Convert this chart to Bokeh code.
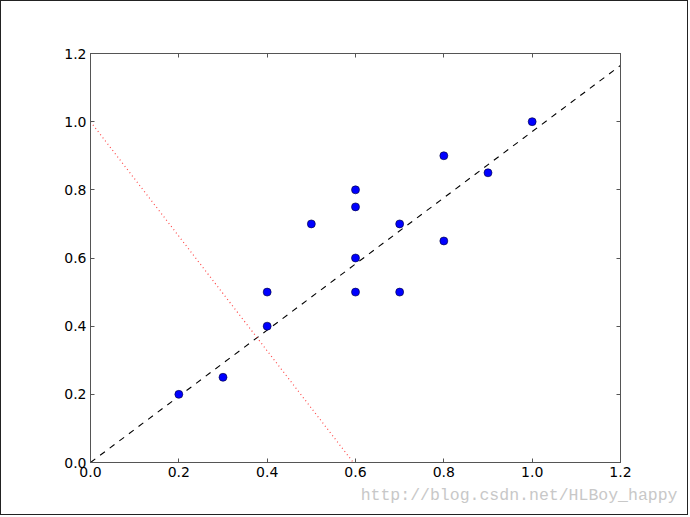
from bokeh.plotting import figure
from bokeh.models import Range1d, LinearAxis, FixedTicker, Title, CustomJSTickFormatter
from bokeh.embed import file_html
from bokeh.resources import INLINE

# data
xs = [0.2, 0.3, 0.4, 0.4, 0.5, 0.6, 0.6, 0.6, 0.6, 0.7, 0.7, 0.8, 0.8, 0.9, 1.0]
ys = [0.2, 0.25, 0.4, 0.5, 0.7, 0.5, 0.6, 0.75, 0.8, 0.5, 0.7, 0.65, 0.9, 0.85, 1.0]
fit_x = [0.0, 1.2]
fit_y = [0.0, 1.165]
perp_x = [0.0, 0.595]
perp_y = [1.0, 0.0]
ticks = [0.0, 0.2, 0.4, 0.6, 0.8, 1.0, 1.2]
watermark = "http://blog.csdn.net/HLBoy_happy"

FONT = "DejaVu Sans"

p = figure(width=688, height=515, output_backend="svg", toolbar_location=None,
           x_range=Range1d(0, 1.2), y_range=Range1d(0, 1.2),
           x_axis_location=None, y_axis_location=None,
           min_border_left=89, min_border_right=69, min_border_top=52, min_border_bottom=54)
p.grid.visible = False
p.outline_line_color = "#555555"
p.outline_line_width = 1
p.background_fill_color = "white"
p.border_fill_color = "white"
p.styles = {"border": "1.5px solid #222222"}

fmt = CustomJSTickFormatter(code="return tick.toFixed(1);")

def mk_axis(show_labels):
    ax = LinearAxis(ticker=FixedTicker(ticks=ticks), formatter=fmt)
    ax.major_tick_in = 4
    ax.major_tick_out = 0
    ax.minor_tick_line_color = None
    ax.axis_line_color = "#555555"
    ax.major_tick_line_color = "#555555"
    ax.major_label_text_font = FONT
    ax.major_label_text_font_size = "14px"
    ax.major_label_text_color = "black"
    ax.major_label_standoff = 4
    if not show_labels:
        ax.major_label_text_font_size = "0px"
        ax.major_label_text_color = None
    return ax

p.add_layout(mk_axis(True), "left")
p.add_layout(mk_axis(True), "below")
p.add_layout(mk_axis(False), "right")
p.add_layout(mk_axis(False), "above")

wm = Title(text=watermark, text_font="Liberation Mono", text_font_size="16.5px",
           text_color="#c8c8c8", text_font_style="normal", align="right",
           offset=-57, standoff=8)
p.add_layout(wm, "below")

p.line(fit_x, fit_y, line_color="black", line_dash="6 6", line_width=1.1)
p.line(perp_x, perp_y, line_color="#ff3333", line_dash="1 3", line_width=1.2, line_alpha=0.9)
p.scatter(xs, ys, size=8, fill_color="#0000ff", line_color="#000033", line_width=0.6)

open("out.html", "w").write(file_html(p, INLINE))
